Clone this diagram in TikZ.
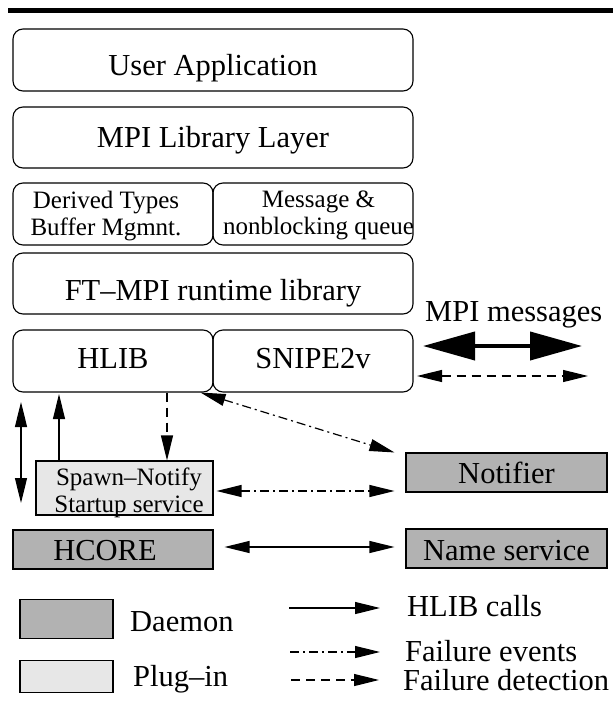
\documentclass[tikz,border=0pt]{standalone}
\usepackage{fontspec}
\setmainfont{Liberation Serif}
\usetikzlibrary{arrows.meta,calc}
\newcommand\fmain{\fontsize{30.5}{34}\selectfont}
\newcommand\fsmall{\fontsize{25}{27}\selectfont}
\definecolor{dgray}{gray}{0.70}
\definecolor{lgray}{gray}{0.905}
\begin{document}
\begin{tikzpicture}[x=1pt,y=-1pt,
  every node/.style={font=\fmain, inner sep=0pt},
  rbox/.style={draw, line width=1.1pt, rounded corners=10pt, text depth=0pt},
  daemon/.style={draw, line width=1.1pt, fill=dgray, text depth=0pt},
  plugin/.style={draw, line width=1.1pt, fill=lgray},
  conn/.style={line width=1.2pt},
  hl/.style={conn, -{Triangle[length=25pt,width=12pt]}},
  hlboth/.style={conn, {Triangle[length=25pt,width=12pt]}-{Triangle[length=25pt,width=12pt]}},
  fe/.style={dash pattern=on 9pt off 4pt on 2pt off 4pt},
  fd/.style={dash pattern=on 9pt off 6pt},
  lbl/.style={anchor=base west},
  two/.style={font=\fsmall, align=center, anchor=north}
]
\useasboundingbox (0,0) rectangle (613,717);
% top rule
\draw[line width=5pt] (8,11) -- (613,11);

% layered boxes
\node[rbox, minimum width=400pt, minimum height=62pt, text height=30pt] (ua) at (213,60) {User Application};
\node[rbox, minimum width=400pt, minimum height=61pt, text height=19pt] (mpi) at (213,137.5) {MPI Library Layer};
\node[rbox, minimum width=200pt, minimum height=62pt] (der) at (113,214) {};
\node[rbox, minimum width=200pt, minimum height=62pt] (msg) at (313,214) {};
\node[two] (dert) at (106,190.9) {Derived Types\\Buffer Mgmnt.};
\node[two] (msgt) at (318.5,191.1) {Message \&\\nonblocking queue};
\node[rbox, minimum width=400pt, minimum height=61pt, text height=34pt] (ft) at (213,283.5) {FT–MPI runtime library};
\node[rbox, minimum width=200pt, minimum height=62pt, text height=14pt] (hlib) at (113,361) {HLIB};
\node[rbox, minimum width=200pt, minimum height=62pt, text height=14pt] (snipe) at (313,361) {SNIPE2v};

% services
\node[plugin, minimum width=177pt, minimum height=54pt] (spawn) at (124.5,488) {};
\node[two] (spawnt) at (129,467.9) {Spawn–Notify\\Startup service};
\node[daemon, minimum width=201pt, minimum height=39pt, text height=21pt] (notif) at (506.5,472.5) {Notifier};
\node[daemon, minimum width=200pt, minimum height=39pt, text height=21pt] (hcore) at (113,549.5) {HCORE\hspace*{16pt}};
\node[daemon, minimum width=201pt, minimum height=39pt, text height=23pt] (names) at (506.5,548.5) {Name service};

% MPI messages
\node[lbl] (mm) at (425,321.5) {MPI messages};
\coordinate (m1) at (423,346);
\coordinate (m2) at (582,346);
\draw[line width=4pt, {Triangle[length=52pt,width=28pt]}-{Triangle[length=52pt,width=28pt]}] (m1) -- (m2);
\coordinate (d1) at (417,376);
\coordinate (d2) at (588,376);
\draw[hlboth, fd] (d1) -- (d2);

% connectors
\coordinate (la1) at (21,402);
\coordinate (la2) at (21,503);
\draw[hlboth] (la1) -- (la2);
\coordinate (ub) at (59,0);
\draw[hl, shorten >=1.5pt] (ub |- spawn.north) -- (ub |- hlib.south);
\coordinate (dd) at (167,0);
\draw[hl, fd] (dd |- hlib.south) -- (dd |- spawn.north);
\draw[hlboth, fe] ($(hlib.south east)+(-13,0)$) -- ($(notif.north west)+(-11,0)$);
\coordinate (r1) at (0,491);
\draw[hlboth, fe] ($(spawn.east |- r1)+(3,0)$) -- ($(notif.west |- r1)+(-11,0)$);
\draw[hlboth] ($(hcore.east)+(11,-2.5)$) -- ($(names.west)+(-11,-1.5)$);

% legend
\node[daemon, minimum width=93pt, minimum height=39pt] (sd) at (66.5,619) {};
\node[plugin, minimum width=93pt, minimum height=32pt] (sp) at (66.5,676.5) {};
\node[lbl] (td) at (130,631.5) {Daemon};
\node[lbl] (tp) at (133,686) {Plug–in};
\node[lbl] (t1) at (407,616) {HLIB calls};
\node[lbl] (t2) at (405,661.5) {Failure events};
\node[lbl] (t3) at (403,690) {Failure detection};
\coordinate (a1) at (289,608);
\coordinate (b1) at (380,608);
\coordinate (a2) at (290,652);
\coordinate (b2) at (380,652);
\coordinate (a3) at (291,680);
\coordinate (b3) at (379,680);
\draw[hl] (a1) -- (b1);
\draw[hl, fe] (a2) -- (b2);
\draw[hl, fd] (a3) -- (b3);
\end{tikzpicture}
\end{document}
